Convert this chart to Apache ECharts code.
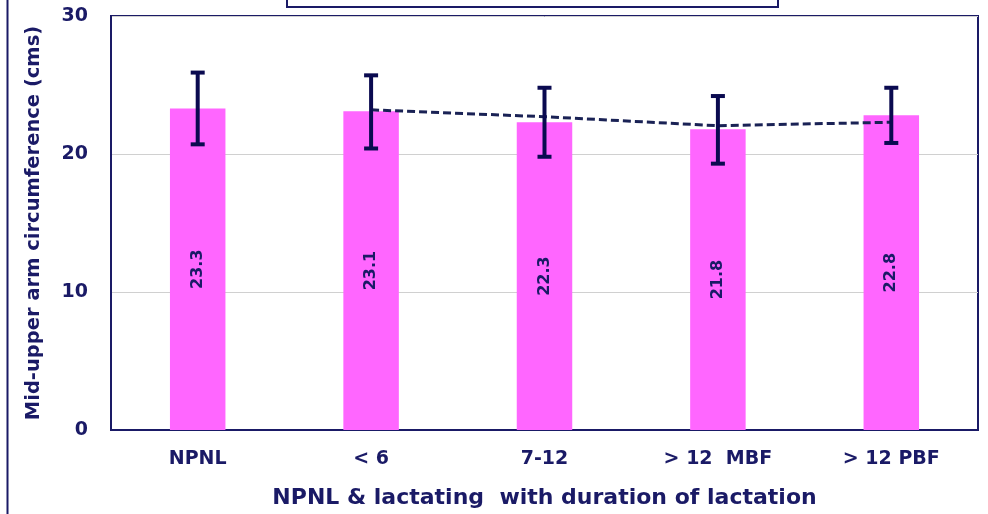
<!DOCTYPE html>
<html><head><meta charset="utf-8">
<script src="https://cdn.jsdelivr.net/npm/echarts@6/dist/echarts.min.js"></script>
<style>html,body{margin:0;padding:0;background:#fff}#c{width:988px;height:514px}</style>
</head><body><div id="c"></div>
<script>
const categories = ['NPNL', '< 6', '7-12', '> 12  MBF', '> 12 PBF'];
const means = [23.3, 23.1, 22.3, 21.8, 22.8];
const errLow = [20.7, 20.4, 19.8, 19.3, 20.8];
const errHigh = [25.9, 25.7, 24.8, 24.2, 24.8];
const trend = [null, 23.2, 22.7, 22.05, 22.3];
const yTicks = [0, 10, 20, 30];

const navy = '#1a1a66';
const chart = echarts.init(document.getElementById('c'));
const errData = categories.map((c, i) => [i, errLow[i], errHigh[i]]);
chart.setOption({
  animation: false,
  grid: { left: 111, right: 10, top: 16, bottom: 84, containLabel: false, outerBoundsMode: 'none',
    show: true, borderColor: navy, borderWidth: 2, backgroundColor: 'transparent' },
  xAxis: {
    type: 'category', data: categories,
    axisLine: { lineStyle: { color: navy, width: 2 } },
    axisTick: { show: false },
    axisLabel: { color: navy, fontFamily: 'DejaVu Sans', fontWeight: 'bold', fontSize: 19, margin: 20 },
    name: 'NPNL & lactating  with duration of lactation', nameLocation: 'middle', nameGap: 57,
    nameTextStyle: { color: navy, fontFamily: 'DejaVu Sans', fontWeight: 'bold', fontSize: 22 }
  },
  yAxis: {
    type: 'value', min: 0, max: 30, interval: 10,
    axisLine: { show: true, lineStyle: { color: navy, width: 2 } },
    axisTick: { show: false },
    splitLine: { lineStyle: { color: '#d0d0d0', width: 1 } },
    axisLabel: { color: navy, fontFamily: 'DejaVu Sans', fontWeight: 'bold', fontSize: 19, margin: 23,
      formatter: v => yTicks.includes(v) ? String(v) : '' },
    name: 'Mid-upper arm circumference (cms)', nameLocation: 'middle', nameGap: 67, nameRotate: 90,
    nameTextStyle: { color: navy, fontFamily: 'DejaVu Sans', fontWeight: 'bold', fontSize: 19.5 }
  },
  series: [
    {
      type: 'bar', data: means, barWidth: '32%',
      itemStyle: { color: '#ff66ff' },
      label: { show: true, position: 'inside', rotate: 90, color: navy, fontFamily: 'DejaVu Sans', fontWeight: 'bold', fontSize: 16,
        formatter: p => p.value.toFixed(1) }
    },
    {
      type: 'line', data: trend, symbol: 'none', connectNulls: false,
      lineStyle: { color: '#1a2255', width: 3, type: [8, 4] }, z: 3
    },
    {
      type: 'custom', data: errData, z: 4,
      renderItem: (params, api) => {
        const x = api.value(0);
        const lo = api.coord([x, api.value(1)]);
        const hi = api.coord([x, api.value(2)]);
        const hw = 7;
        const st = { stroke: '#0a0a50', lineWidth: 4 };
        return { type: 'group', children: [
          { type: 'line', shape: { x1: hi[0], y1: hi[1], x2: lo[0], y2: lo[1] }, style: st },
          { type: 'line', shape: { x1: hi[0] - hw, y1: hi[1], x2: hi[0] + hw, y2: hi[1] }, style: st },
          { type: 'line', shape: { x1: lo[0] - hw, y1: lo[1], x2: lo[0] + hw, y2: lo[1] }, style: st }
        ]};
      }
    }
  ],
  graphic: [
    { type: 'line', shape: { x1: 7.5, y1: 0, x2: 7.5, y2: 514 }, style: { stroke: navy, lineWidth: 2 } },
    { type: 'rect', shape: { x: 287, y: -10, width: 491, height: 17 }, style: { fill: 'none', stroke: navy, lineWidth: 2 } }
  ]
});
</script></body></html>
